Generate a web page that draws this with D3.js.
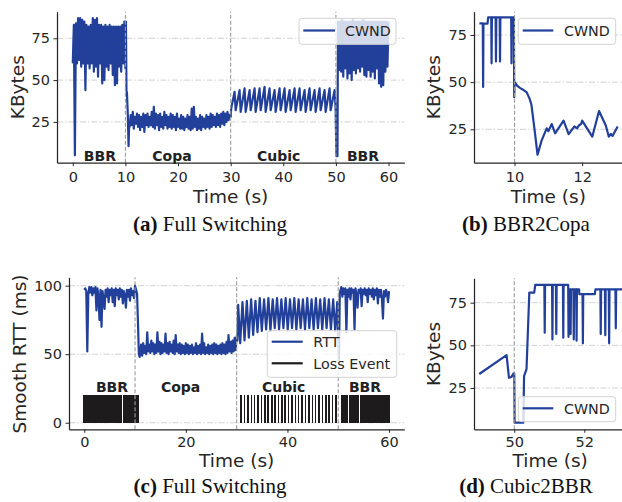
<!DOCTYPE html>
<html><head><meta charset="utf-8">
<script src="https://cdn.jsdelivr.net/npm/d3@7"></script>
<style>
body{margin:0;background:#fff}
svg{display:block}
</style></head>
<body>
<svg id="c" width="622" height="502" font-family="DejaVu Sans"></svg>
<script>
// ---------------- DATA ----------------
// (a) Full switching CWND (KBytes)
const aBBR1 = [60,83,5,84,60,87,62,87,58,86,60,85,44,83,60,82,57,83,60,87,55,86,58,87,52,83,60,83,48,82,50,83,58,82,56,83,60,82,53,82,47,82,48,82,58,82,55,83,60,85,57]; // t=0..10 step .2
const aTrans1 = [[10.1,85],[10.2,44],[10.3,42],[10.45,30],[10.6,10.5],[10.7,22]];
const aCopa = [22,29,23,31,21,28,24,30,22,29,
  20,28,22,30,19,29,23,30,22,28,
  23,31,22,34,21,30,23,29,20,30,
  22,28,21,31,23,29,21,28,22,30,
  21,29,22,28,20,30,22,27,21,29,
  21,28,20,27,22,29,21,28,20,33,
  21,34,22,28,20,27,21,29,20,28,
  22,27,21,29,22,28,21,30,22,29,
  23,28,22,30,23,29,22,30,24,31,
  23,30,25,31,26,29,28]; // t=10.8..30 step .2
const aCubic = [[30.1,33],[30.75,43],[30.95,32],[31.7,44],[31.9,31],[32.65,45],[32.85,31],[33.6,44],[33.8,32],[34.55,45],[34.75,31],[35.5,45],[35.7,32],[36.45,46],[36.65,31],[37.4,45],[37.6,32],[38.35,44],[38.55,31],[39.3,45],[39.5,32],[40.25,45],[40.45,31],[41.2,44],[41.4,32],[42.15,45],[42.35,31],[43.1,45],[43.3,32],[44.05,44],[44.25,31],[45.0,45],[45.2,32],[45.95,44],[46.15,31],[46.9,45],[47.1,32],[47.85,44],[48.05,31],[48.8,45],[49.0,32],[49.75,44],[49.95,33]];
const aTrans2 = [[50.1,4.5],[50.3,4.5]];
const aBBR2 = [85,56,85,55,86,52,85,57,85,51,85,
  54,85,50,86,56,85,54,85,57,85,
  55,85,58,86,53,85,52,85,56,85,
  52,85,55,85,51,85,57,85,48,85,
  46,85,47,85,55,85,58,85]; // t=50.4..60 step .2

// (b) BBR2Copa CWND
const bCwnd = [[8.96,81.2],[9.06,81.2],[9.07,47.5],[9.08,81],[9.2,81],[9.22,84.3],[9.31,84.3],[9.32,60],[9.33,84.3],[9.44,84.3],[9.45,61],[9.46,84.3],[9.56,84.3],[9.57,61],[9.58,84.3],[9.9,84.3],[9.91,60],[9.92,84.3],[9.98,84.3],[9.99,42],[10.0,50.2],[10.08,48],[10.16,47],[10.25,46],[10.36,44.6],[10.45,41],[10.5,37.9],[10.6,23.7],[10.68,11.5],[10.8,19],[10.95,25.5],[11.0,24],[11.1,27.8],[11.2,22.9],[11.45,29.6],[11.6,22.4],[11.77,26.5],[11.85,25.5],[11.9,27],[11.97,27.8],[12.0,29.6],[12.3,21.1],[12.5,34.7],[12.7,27],[12.79,21.1],[12.85,22.5],[12.9,21.5],[13.05,26.5]];

// (c) Full switching smooth RTT (ms)
const cBBR1 = [97,98,96,52,94,99,95,99,93,98,
  95,99,82,98,92,75,97,70,96,90,
  83,97,92,98,88,97,93,98,88,97,
  85,98,93,97,90,98,92,97,87,96,
  93,84,97,92,97,89,98,93,96,91,
  100,97,94]; // t=0..10.4 step .2
const cTrans1 = [[10.6,70],[10.75,50],[10.9,48]];
const cCopa = [50,57,49,58,51,56,50,66,52,57,
  51,60,52,58,50,57,51,66,52,59,
  50,58,51,57,52,65,51,58,50,59,
  52,57,51,60,50,64,52,57,51,58,
  50,57,51,56,50,58,51,57,50,56,
  51,57,50,55,51,58,50,56,51,57,
  50,65,51,58,50,55,51,57,50,56,
  51,57,50,58,51,57,50,56,51,57,
  50,58,51,57,50,59,51,64,52,59,
  51,60,52,62,53,63]; // t=11..30 step .2
const cCubic = [[30.15,60],[30.3,86],[30.7,58],[31.15,88],[31.55,60],[32.0,89],[32.4,62],[32.85,90],[33.25,64],[33.7,89],[34.1,66],[34.55,91],[34.95,67],[35.4,90],[35.8,68],[36.25,91],[36.65,67],[37.1,90],[37.5,69],[37.95,91],[38.35,68],[38.8,90],[39.2,69],[39.65,91],[40.05,68],[40.5,90],[40.9,69],[41.35,91],[41.75,68],[42.2,90],[42.6,69],[43.05,90],[43.45,68],[43.9,91],[44.3,69],[44.75,90],[45.15,68],[45.6,91],[46.0,69],[46.45,90],[46.85,68],[47.3,91],[47.7,69],[48.15,90],[48.55,68],[49.0,90],[49.4,67],[49.8,88],[50.0,62],[50.15,46],[50.3,95]];
const cBBR2 = [96,99,92,98,94,98,66,97,92,98,
  90,98,95,97,68,98,93,84,97,95,
  98,85,97,94,98,93,97,88,98,94,
  97,92,98,90,97,93,98,87,97,92,
  97,90,76,96,92,97,94,88,96]; // t=50.4..60 step .2
const lossBBR1 = [0.0,0.2,0.4,0.5,0.9,1.1,1.3,1.5,1.7,1.9,2.1,2.3,2.5,2.7,2.9,3.1,3.5,3.7,4.1,4.3,4.5,4.7,4.9,5.1,5.3,5.5,5.7,5.9,6.1,6.3,6.5,6.7,6.9,7.1,7.3,7.7,7.9,8.1,8.3,8.5,8.7,8.9,9.1,9.3,9.5,9.7,9.9,10.1,10.3,10.5,10.6];
const lossCubic = [30.9,31.55,32.2,32.9,33.55,34.2,34.9,35.55,36.2,36.9,37.55,38.2,38.9,39.55,40.2,40.9,41.55,42.2,42.9,43.55,44.2,44.9,45.55,46.2,46.9,47.55,48.2,48.9,49.55];
const lossBBR2 = [50.6,50.8,51.0,51.2,51.4,51.6,51.8,52.2,52.4,52.6,52.8,53.0,53.2,53.4,53.6,53.8,54.0,54.4,54.6,54.8,55.0,55.2,55.4,55.6,55.8,56.0,56.2,56.4,56.6,56.8,57.0,57.2,57.6,57.8,58.0,58.2,58.4,58.6,58.8,59.0,59.2,59.4,59.6,59.8,60.0];

// (d) Cubic2BBR CWND
const dCwnd = [[49.0,33.2],[49.78,44.3],[49.85,31],[49.92,31.5],[49.98,33.6],[50.0,33.6],[50.01,4.7],[50.26,4.7],[50.28,32],[50.35,36],[50.43,80.9],[50.57,80.9],[50.6,85.4],[50.86,85.4],[50.87,57.4],[50.88,85.4],[51.08,85.4],[51.09,53.5],[51.1,85.4],[51.19,85.4],[51.2,56.7],[51.21,85.4],[51.39,85.4],[51.4,54.5],[51.41,85.4],[51.54,85.4],[51.55,55],[51.56,82.8],[51.6,82.8],[51.61,56.7],[51.62,82.8],[51.69,82.8],[51.7,53.5],[51.71,82.8],[51.77,82.8],[51.78,52.7],[51.79,82.8],[51.85,82.8],[51.86,80],[51.95,80],[51.96,51.2],[51.97,80],[52.3,80],[52.32,82.8],[52.46,82.8],[52.47,56.7],[52.48,82.8],[52.59,82.8],[52.6,56],[52.61,82.8],[52.7,82.8],[52.71,51.2],[52.72,82.8],[52.89,82.8],[52.9,60],[52.91,82.8],[53.1,82.8]];

const fullXTicks = [0,10,20,30,40,50,60];
const rttXTicks = [0,20,40,60];
const cwndYTicks = [25,50,75];
const rttYTicks = [0,50,100];
const bXTicks = [10,12];
const dXTicks = [50,52];
const phases = ["BBR","Copa","Cubic","BBR"];
const phaseStarts = [2.1,15.1,35.0,52.1];
const switchTimes = [10,30,50];

// ---------------- DRAWING ----------------
const svg = d3.select("#c");
const BLUE = "#22409a", INK = "#262626";
function seq(t0, dt, vals){ return vals.map((v,i)=>[+(t0+i*dt).toFixed(3), v]); }

function panel(o){
  const x = d3.scaleLinear().domain(o.xDom).range(o.xRng);
  const y = d3.scaleLinear().domain(o.yDom).range(o.yRng);
  const g = svg.append("g");
  g.selectAll(null).data(o.yTicks).join("line")
    .attr("x1",o.xRng[0]).attr("x2",o.xRng[1])
    .attr("y1",d=>y(d)).attr("y2",d=>y(d))
    .attr("stroke","#cdcdcd").attr("stroke-width",0.9).attr("stroke-dasharray","6,2,1.5,2");
  const line = d3.line().x(d=>x(d[0])).y(d=>y(d[1]));
  (o.series||[]).forEach(s=>{
    g.append("path").datum(s.data).attr("d",line).attr("fill","none")
      .attr("stroke",s.color).attr("stroke-width",2.2).attr("stroke-linejoin","round");
  });
  if(o.loss){
    g.selectAll(null).data(o.loss).join("line")
      .attr("x1",d=>x(d)).attr("x2",d=>x(d)).attr("y1",y(0)).attr("y2",y(o.lossH))
      .attr("stroke","#1e1b1c").attr("stroke-width",1.6).attr("shape-rendering","crispEdges");
  }
  g.selectAll(null).data(o.vlines).join("line")
    .attr("x1",d=>x(d)).attr("x2",d=>x(d)).attr("y1",o.yRng[0]).attr("y2",o.yRng[1])
    .attr("stroke","#9c9c9c").attr("stroke-width",1.1).attr("stroke-dasharray","4,2");
  if(o.notes){
    g.selectAll(null).data(o.notes).join("text")
      .attr("x",(d,i)=>x(o.noteX[i])).attr("y",y(o.noteV))
      .attr("font-size",14).attr("font-weight","bold").attr("fill","#222").text(d=>d);
  }
  const xa = g.append("g").attr("transform",`translate(0,${o.yRng[0]})`)
    .call(d3.axisBottom(x).tickValues(o.xTicks).tickSize(3.5).tickSizeOuter(0).tickPadding(o.xPad).tickFormat(d3.format("d")));
  const ya = g.append("g").attr("transform",`translate(${o.xRng[0]},0)`)
    .call(d3.axisLeft(y).tickValues(o.yTicks).tickSize(3.5).tickSizeOuter(0).tickPadding(3.5).tickFormat(d3.format("d")));
  [xa,ya].forEach(a=>{
    a.attr("font-family","DejaVu Sans").attr("font-size",14.5);
    a.select(".domain").attr("stroke",INK).attr("stroke-width",1.25);
    a.selectAll(".tick line").attr("stroke",INK).attr("stroke-width",1);
    a.selectAll(".tick text").attr("fill",INK);
  });
  g.append("text").attr("x",(o.xRng[0]+o.xRng[1])/2).attr("y",o.xLabY).attr("text-anchor","middle")
    .attr("font-size",18.5).attr("fill",INK).text("Time (s)");
  g.append("text").attr("transform",`translate(${o.yLabX},${o.yLabY}) rotate(-90)`).attr("text-anchor","middle")
    .attr("font-size",18.5).attr("fill",INK).text(o.yLabel);
  const cap = g.append("text").attr("x",o.capX).attr("y",o.capY).attr("text-anchor","middle")
    .style("font-family","'Liberation Serif', 'Times New Roman', serif").attr("font-size",21).attr("fill","#111");
  cap.append("tspan").attr("font-weight","bold").text(o.capB);
  cap.append("tspan").text(" "+o.capT);
  const L = o.legend;
  g.append("rect").attr("x",L.x0).attr("y",L.y0).attr("width",L.x1-L.x0).attr("height",L.y1-L.y0)
    .attr("rx",3).attr("fill","#fff").attr("fill-opacity",0.8).attr("stroke","#d2d2d2").attr("stroke-width",1);
  L.items.forEach(it=>{
    g.append("line").attr("x1",L.lx0).attr("x2",L.lx1).attr("y1",it.y).attr("y2",it.y)
      .attr("stroke",it.color).attr("stroke-width",2.2);
    g.append("text").attr("x",L.tx).attr("y",it.y+5.6).attr("font-size",14.3).attr("fill",INK).text(it.label);
  });
}

const aSeries = [...seq(0,0.2,aBBR1), ...aTrans1, ...seq(10.8,0.2,aCopa), ...aCubic, ...aTrans2, ...seq(50.4,0.2,aBBR2)];
const cSeries = [...seq(0,0.2,cBBR1), ...cTrans1, ...seq(11,0.2,cCopa), ...cCubic, ...seq(50.4,0.2,cBBR2)];

panel({xDom:[-3,63], xRng:[57,404.3], yDom:[0.6,90.9], yRng:[162.7,11.7],
  xTicks:fullXTicks, yTicks:cwndYTicks, xPad:5.8, vlines:switchTimes,
  series:[{data:aSeries,color:BLUE}], notes:phases, noteX:phaseStarts, noteV:1.6,
  xLabY:202.7, yLabX:24, yLabY:87.2, yLabel:"KBytes",
  capX:210, capY:231, capB:"(a)", capT:"Full Switching",
  legend:{x0:299,y0:18.3,x1:396,y1:44.3,lx0:303.3,lx1:335,tx:345,items:[{label:"CWND",color:BLUE,y:30.5}]}});

panel({xDom:[8.8,13.2], xRng:[474,622.7], yDom:[7.3,87.35], yRng:[162.7,11.7],
  xTicks:bXTicks, yTicks:cwndYTicks, xPad:5.8, vlines:[10],
  series:[{data:bCwnd,color:BLUE}],
  xLabY:202.7, yLabX:440, yLabY:87.2, yLabel:"KBytes",
  capX:526, capY:231, capB:"(b)", capT:"BBR2Copa",
  legend:{x0:518.3,y0:18.3,x1:615.7,y1:44.3,lx0:522.7,lx1:553.3,tx:564,items:[{label:"CWND",color:BLUE,y:30.5}]}});

panel({xDom:[-3,63], xRng:[69,404.3], yDom:[-4.8,106.1], yRng:[429.3,277.3],
  xTicks:rttXTicks, yTicks:rttYTicks, xPad:3.6, vlines:switchTimes,
  series:[{data:cSeries,color:BLUE}], loss:[...lossBBR1,...lossCubic,...lossBBR2], lossH:20,
  notes:phases, noteX:[2.3,15.1,35.0,52.1], noteV:22.6,
  xLabY:466.7, yLabX:25.6, yLabY:354, yLabel:"Smooth RTT (ms)",
  capX:210, capY:493, capB:"(c)", capT:"Full Switching",
  legend:{x0:267.3,y0:330.7,x1:396.7,y1:377.3,lx0:271.7,lx1:302.7,tx:313.3,
    items:[{label:"RTT",color:BLUE,y:341.7},{label:"Loss Event",color:"#1b1b1b",y:363.3}]}});

panel({xDom:[48.85,53.2], xRng:[474,626.3], yDom:[0.8,89.3], yRng:[429.3,278.3],
  xTicks:dXTicks, yTicks:cwndYTicks, xPad:3.6, vlines:[50],
  series:[{data:dCwnd,color:BLUE}],
  xLabY:466.7, yLabX:440, yLabY:354, yLabel:"KBytes",
  capX:526, capY:493, capB:"(d)", capT:"Cubic2BBR",
  legend:{x0:518.3,y0:396.7,x1:615.7,y1:421.7,lx0:522.7,lx1:553.3,tx:564,items:[{label:"CWND",color:BLUE,y:408.3}]}});
</script>
</body></html>
